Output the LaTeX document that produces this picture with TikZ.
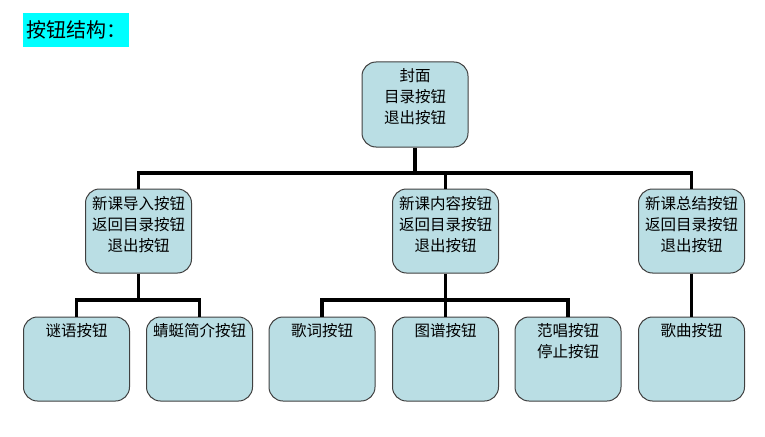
\documentclass[tikz,border=0pt]{standalone}
\usepackage{fontspec}
\setmainfont{Noto Sans CJK SC}
\usetikzlibrary{positioning}
\definecolor{colBox}{RGB}{186,222,228}
\definecolor{colEdge}{RGB}{64,64,64}
\definecolor{colMark}{RGB}{0,255,255}

\begin{document}
\begin{tikzpicture}[
    x=1pt, y=-1pt,
    every node/.style={font=\fontsize{15.5}{21}\selectfont},
    btn/.style={draw=colEdge, fill=colBox, line width=1pt, rounded corners=14pt, minimum width=106pt, minimum height=84pt, inner sep=0pt},
    txt/.style={anchor=north, align=center, inner sep=0pt},
    link/.style={line width=3.2pt}
]
    \useasboundingbox (0,0) rectangle (765,436);

    % heading with highlight
    \node[fill=colMark, minimum width=106pt, minimum height=34pt, inner sep=1pt, font=\fontsize{20}{24}\selectfont] (H) at (76,30) {按钮结构：};

    % cover page
    \node[btn, minimum height=85pt] (T) at (415,104.5) {};
    \node[txt] (Tt) at ([yshift=-7pt]T.north) {封面\\目录按钮\\退出按钮};

    % second level, one box per lesson part
    \node[btn] (N1) at (138.5,231) {};
    \node[btn] (N2) at (445.5,231) {};
    \node[btn] (N3) at (691.5,231) {};
    \node[txt] (N1t) at ([yshift=-8pt]N1.north) {新课导入按钮\\返回目录按钮\\退出按钮};
    \node[txt] (N2t) at ([yshift=-8pt]N2.north) {新课内容按钮\\返回目录按钮\\退出按钮};
    \node[txt] (N3t) at ([yshift=-8pt]N3.north) {新课总结按钮\\返回目录按钮\\退出按钮};

    % third level
    \node[btn] (K1) at (76.5,359) {};
    \node[btn] (K2) at (199.5,359) {};
    \node[btn] (K3) at (322,359) {};
    \node[btn] (K4) at (445.5,359) {};
    \node[btn] (K5) at (568,359) {};
    \node[btn] (K6) at (691.5,359) {};
    \node[txt] (K1t) at ([yshift=-7pt]K1.north) {谜语按钮};
    \node[txt] (K2t) at ([yshift=-7pt]K2.north) {蜻蜓简介按钮};
    \node[txt] (K3t) at ([yshift=-7pt]K3.north) {歌词按钮};
    \node[txt] (K4t) at ([yshift=-7pt]K4.north) {图谱按钮};
    \node[txt] (K5t) at ([yshift=-7pt]K5.north) {范唱按钮\\停止按钮};
    \node[txt] (K6t) at ([yshift=-7pt]K6.north) {歌曲按钮};

    % junctions of the tree
    \coordinate (J0) at (415,173);
    \coordinate (J1) at (138.5,300);
    \coordinate (J2) at (445.5,300);

    % connectors
    \draw[link] (T) -- (J0);
    \draw[link] (N1) |- (J0) -| (N3);
    \draw[link] (J0 -| N2) -- (N2);
    \draw[link] (N1) -- (J1);
    \draw[link] (K1) |- (J1) -| (K2);
    \draw[link] (K3) |- (J2) -| (K5);
    \draw[link] (N2) -- (K4);
    \draw[link] (N3) -- (K6);
\end{tikzpicture}
\end{document}
